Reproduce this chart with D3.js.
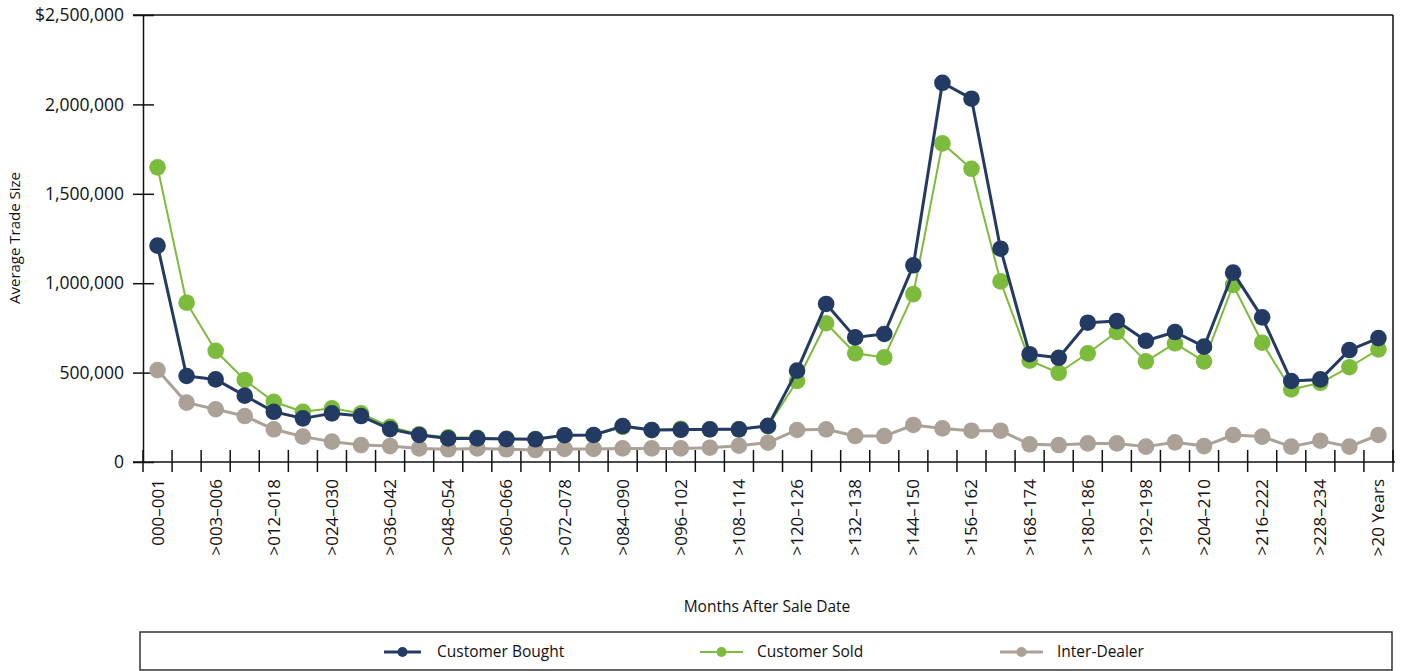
<!DOCTYPE html>
<html>
<head>
<meta charset="utf-8">
<script src="https://cdn.jsdelivr.net/npm/d3@7"></script>
<style>
  html, body { margin: 0; padding: 0; background: #fff; }
  svg { display: block; }
  text { font-family: "Open Sans", Lato, sans-serif; fill: #111; }
</style>
</head>
<body>
<svg id="chart" width="1403" height="671"></svg>
<script>
const categories = [
  "000–001", ">001–003", ">003–006", ">006–012", ">012–018", ">018–024", ">024–030", ">030–036",
  ">036–042", ">042–048", ">048–054", ">054–060", ">060–066", ">066–072", ">072–078", ">078–084",
  ">084–090", ">090–096", ">096–102", ">102–108", ">108–114", ">114–120", ">120–126", ">126–132",
  ">132–138", ">138–144", ">144–150", ">150–156", ">156–162", ">162–168", ">168–174", ">174–180",
  ">180–186", ">186–192", ">192–198", ">198–204", ">204–210", ">210–216", ">216–222", ">222–228",
  ">228–234", ">234–240", ">20 Years"
];

const customerBought = [
  1210000, 481000, 462000, 371000, 281000, 244000, 272000, 257000,
  184000, 151000, 132000, 132000, 128000, 127000, 150000, 151000,
  201000, 179000, 180000, 183000, 183000, 202000, 511000, 884000,
  697000, 716000, 1100000, 2121000, 2032000, 1193000, 603000, 583000,
  779000, 788000, 678000, 727000, 645000, 1059000, 809000, 453000,
  462000, 626000, 693000
];

const customerSold = [
  1648000, 891000, 622000, 459000, 337000, 281000, 300000, 272000,
  197000, 155000, 138000, 135000, 130000, 128000, 150000, 150000,
  196000, 178000, 186000, 182000, 183000, 200000, 453000, 776000,
  608000, 585000, 939000, 1782000, 1640000, 1010000, 567000, 499000,
  608000, 727000, 563000, 664000, 563000, 990000, 667000, 406000,
  443000, 530000, 630000
];

const interDealer = [
  514000, 332000, 295000, 257000, 183000, 142000, 114000, 95000,
  89000, 76000, 71000, 76000, 71000, 67000, 73000, 73000,
  76000, 76000, 76000, 80000, 91000, 108000, 179000, 183000,
  145000, 145000, 207000, 188000, 175000, 175000, 99000, 95000,
  104000, 104000, 86000, 110000, 89000, 151000, 142000, 86000,
  119000, 86000, 151000
];

const yTicks = [0, 500000, 1000000, 1500000, 2000000, 2500000];
const seriesNames = ["Customer Bought", "Customer Sold", "Inter-Dealer"];
const seriesColors = ["#233a63", "#7dbb3c", "#aba197"];

const series = [
  { name: seriesNames[2], values: interDealer, color: seriesColors[2], width: 3 },
  { name: seriesNames[1], values: customerSold, color: seriesColors[1], width: 2 },
  { name: seriesNames[0], values: customerBought, color: seriesColors[0], width: 3 }
];

const svg = d3.select("#chart");
const pL = 143, pR = 1393, pT = 15, pB = 462;

const x = d3.scaleBand().domain(categories).range([pL, pR]).padding(0);
const y = d3.scaleLinear().domain([0, 2500000]).range([pB, pT]);
const cx = d => x(d) + x.bandwidth() / 2;

// frame
svg.append("line").attr("x1", 133).attr("x2", pR).attr("y1", pT).attr("y2", pT)
  .attr("stroke", "#111").attr("stroke-width", 1.5);
svg.append("line").attr("x1", pR).attr("x2", pR).attr("y1", pT).attr("y2", pB)
  .attr("stroke", "#111").attr("stroke-width", 1.5);

// y axis
const yAxis = d3.axisLeft(y).tickValues(yTicks).tickSizeInner(10).tickSizeOuter(0)
  .tickPadding(9)
  .tickFormat(d => (d === 2500000 ? "$" : "") + d3.format(",")(d));
const gy = svg.append("g").attr("transform", `translate(${pL},0)`).call(yAxis);
gy.select(".domain").attr("stroke", "#111").attr("stroke-width", 1.5);
gy.selectAll(".tick line").attr("stroke", "#111").attr("stroke-width", 1.5).attr("x2", 11).attr("x1", -10);
gy.selectAll(".tick text").attr("font-size", 17.5).attr("font-family", "'Open Sans', sans-serif").attr("fill", "#111");

// x axis with ticks at category boundaries
svg.append("line").attr("x1", 133).attr("x2", pR + 2).attr("y1", pB).attr("y2", pB)
  .attr("stroke", "#111").attr("stroke-width", 1.5);
const boundaries = categories.map(c => x(c)).concat([x(categories[categories.length - 1]) + x.bandwidth()]);
svg.append("g").selectAll("line").data(boundaries).join("line")
  .attr("x1", d => d).attr("x2", d => d).attr("y1", pB - 12).attr("y2", pB + 10)
  .attr("stroke", "#111").attr("stroke-width", 1.5);

svg.append("g").selectAll("text").data(categories.filter((c, i) => i % 2 === 0)).join("text")
  .attr("transform", d => `translate(${cx(d) + 6},${pB + 17}) rotate(-90)`)
  .attr("text-anchor", "end")
  .attr("font-size", 17)
  .text(d => d);

// axis titles
svg.append("text").attr("transform", `translate(20,238) rotate(-90)`)
  .attr("text-anchor", "middle").attr("font-size", 15).text("Average Trade Size");
svg.append("text").attr("x", 767).attr("y", 612).attr("text-anchor", "middle")
  .attr("font-size", 15.5).text("Months After Sale Date");

// lines & markers
const line = d3.line().x((d, i) => cx(categories[i])).y(d => y(d));
series.forEach(s => {
  svg.append("path").datum(s.values).attr("d", line)
    .attr("fill", "none").attr("stroke", s.color).attr("stroke-width", s.width)
    .attr("stroke-linejoin", "round");
  svg.append("g").selectAll("circle").data(s.values).join("circle")
    .attr("cx", (d, i) => cx(categories[i])).attr("cy", d => y(d)).attr("r", 8.3)
    .attr("fill", s.color);
});

// legend
svg.append("rect").attr("x", 140).attr("y", 632).attr("width", 1252).attr("height", 38)
  .attr("fill", "none").attr("stroke", "#333").attr("stroke-width", 1.5);
const legendItems = [
  { name: seriesNames[0], color: seriesColors[0], x0: 384, x1: 421, tx: 437, w: 3 },
  { name: seriesNames[1], color: seriesColors[1], x0: 700, x1: 743, tx: 757, w: 2 },
  { name: seriesNames[2], color: seriesColors[2], x0: 1000, x1: 1043, tx: 1057, w: 3 }
];
const lg = svg.append("g").selectAll("g").data(legendItems).join("g");
lg.append("line").attr("x1", d => d.x0).attr("x2", d => d.x1).attr("y1", 652).attr("y2", 652)
  .attr("stroke", d => d.color).attr("stroke-width", d => d.w);
lg.append("circle").attr("cx", d => (d.x0 + d.x1) / 2).attr("cy", 652).attr("r", 5)
  .attr("fill", d => d.color);
lg.append("text").attr("x", d => d.tx).attr("y", 657).attr("font-size", 15.5).text(d => d.name);
</script>
</body>
</html>
